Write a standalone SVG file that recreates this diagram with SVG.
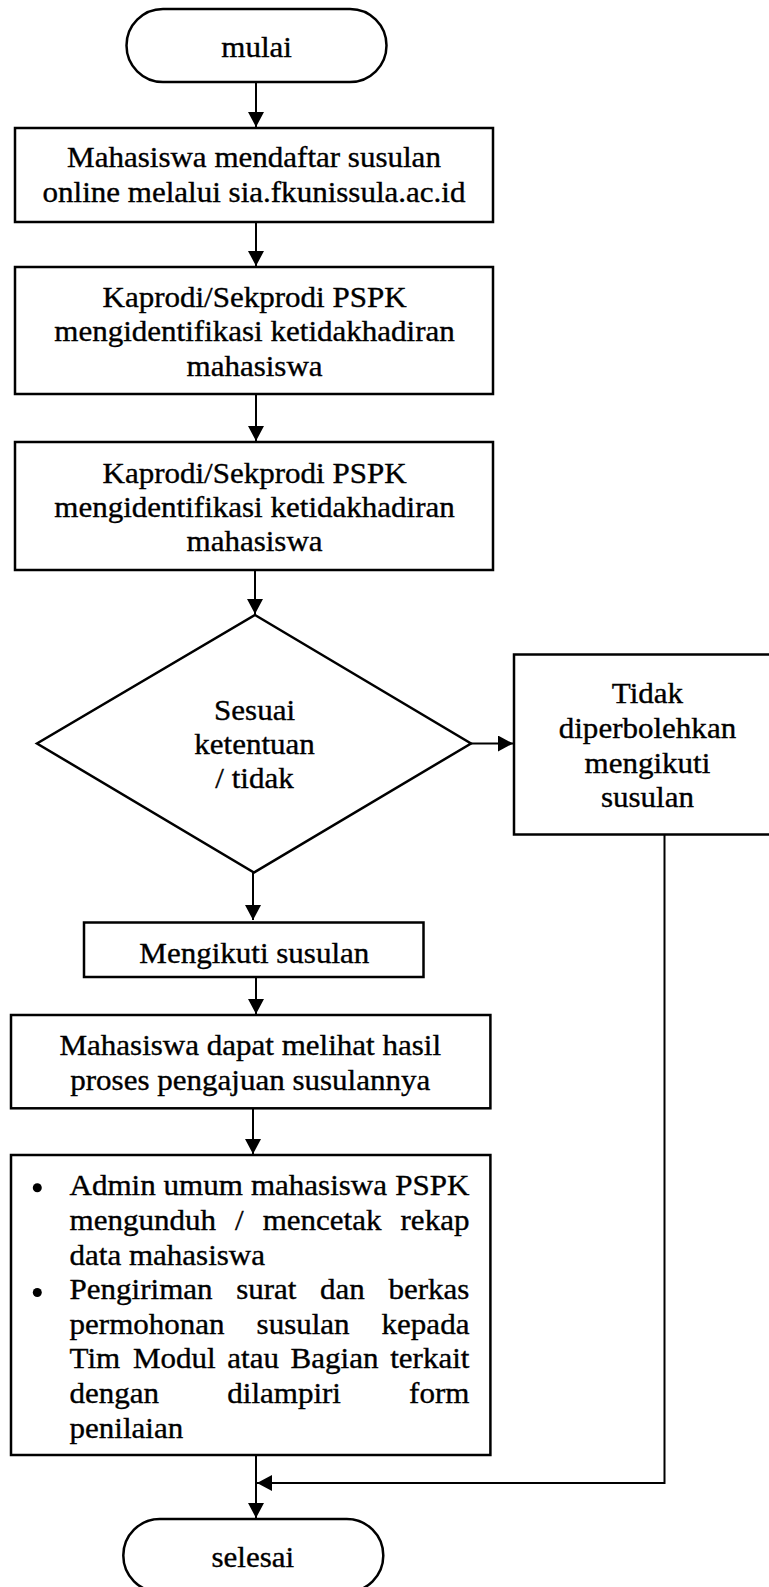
<svg xmlns="http://www.w3.org/2000/svg" width="769" height="1587" viewBox="0 0 769 1587">
<style>
.t{font-family:"Liberation Serif","Times New Roman",serif;font-size:29px;fill:#000;stroke:#000;stroke-width:0.35}
.c{text-anchor:middle}
.e{text-anchor:end}
.s{fill:#fff;stroke:#000;stroke-width:2.5}
.l{fill:none;stroke:#000;stroke-width:2}
</style>
<defs>
<marker id="ah" markerUnits="userSpaceOnUse" markerWidth="17" markerHeight="17" refX="15" refY="8" orient="auto">
<path d="M0,0 L15,8 L0,16 z" fill="#000"/>
</marker>
<clipPath id="clipM"><rect x="83" y="922" width="342" height="50"/></clipPath>
</defs>
<rect width="769" height="1587" fill="#fff"/>

<g id="connectors">
<line class="l" x1="256" y1="82" x2="256" y2="127" marker-end="url(#ah)"/>
<line class="l" x1="256" y1="222" x2="256" y2="266" marker-end="url(#ah)"/>
<line class="l" x1="256" y1="394" x2="256" y2="441" marker-end="url(#ah)"/>
<line class="l" x1="255" y1="570" x2="255" y2="614" marker-end="url(#ah)"/>
<line class="l" x1="471" y1="743.5" x2="513" y2="743.5" marker-end="url(#ah)"/>
<line class="l" x1="253" y1="872" x2="253" y2="920" marker-end="url(#ah)"/>
<line class="l" x1="256" y1="970" x2="256" y2="1014" marker-end="url(#ah)"/>
<line class="l" x1="253" y1="1108" x2="253" y2="1154" marker-end="url(#ah)"/>
<line class="l" x1="256" y1="1455" x2="256" y2="1518" marker-end="url(#ah)"/>
<polyline class="l" points="664.5,834 664.5,1483 257,1483" marker-end="url(#ah)"/>
</g>

<g id="mulai">
<rect class="s" x="126.5" y="9" width="260" height="73" rx="36.5" ry="36.5"/>
<text class="t c" transform="scale(1.07 1)" x="239.8" y="57">mulai</text>
</g>

<g id="daftar">
<rect class="s" x="15" y="128" width="478" height="94"/>
<text class="t c" transform="scale(1.07 1)" x="237.4" y="167.5">Mahasiswa mendaftar susulan</text>
<text class="t c" transform="scale(1.07 1)" x="237.4" y="202">online melalui sia.fkunissula.ac.id</text>
</g>

<g id="identifikasi1">
<rect class="s" x="15" y="267" width="478" height="127"/>
<text class="t c" transform="scale(1.07 1)" x="237.9" y="307">Kaprodi/Sekprodi PSPK</text>
<text class="t c" transform="scale(1.07 1)" x="237.9" y="341.5">mengidentifikasi ketidakhadiran</text>
<text class="t c" transform="scale(1.07 1)" x="237.9" y="376">mahasiswa</text>
</g>

<g id="identifikasi2">
<rect class="s" x="15" y="442" width="478" height="128"/>
<text class="t c" transform="scale(1.07 1)" x="237.9" y="483">Kaprodi/Sekprodi PSPK</text>
<text class="t c" transform="scale(1.07 1)" x="237.9" y="517">mengidentifikasi ketidakhadiran</text>
<text class="t c" transform="scale(1.07 1)" x="237.9" y="551.5">mahasiswa</text>
</g>

<g id="keputusan">
<polygon class="s" points="255,615 471,743.5 254,872.5 37,743.5"/>
<text class="t c" transform="scale(1.07 1)" x="237.9" y="720">Sesuai</text>
<text class="t c" transform="scale(1.07 1)" x="237.9" y="754">ketentuan</text>
<text class="t c" transform="scale(1.07 1)" x="237.9" y="788">/ tidak</text>
</g>

<g id="tidak">
<rect class="s" x="514" y="654.5" width="262" height="180"/>
<text class="t c" transform="scale(1.07 1)" x="605.1" y="703">Tidak</text>
<text class="t c" transform="scale(1.07 1)" x="605.1" y="738.5">diperbolehkan</text>
<text class="t c" transform="scale(1.07 1)" x="605.1" y="773">mengikuti</text>
<text class="t c" transform="scale(1.07 1)" x="605.1" y="806.7">susulan</text>
</g>

<g id="mengikuti">
<rect class="s" x="84" y="922.5" width="339.5" height="54.5"/>
<g clip-path="url(#clipM)">
<text class="t c" transform="scale(1.07 1)" x="237.7" y="963">Mengikuti susulan</text>
</g>
</g>

<g id="hasil">
<rect class="s" x="11" y="1015" width="479.4" height="93.3"/>
<text class="t c" transform="scale(1.07 1)" x="233.9" y="1055">Mahasiswa dapat melihat hasil</text>
<text class="t c" transform="scale(1.07 1)" x="233.9" y="1090">proses pengajuan susulannya</text>
</g>

<g id="admin">
<rect class="s" x="11" y="1155" width="479.4" height="300"/>
<circle cx="37.3" cy="1187.7" r="4.5" fill="#000"/>
<circle cx="37.3" cy="1292.5" r="4.5" fill="#000"/>
<g transform="scale(1.07 1)">
<text class="t" x="65" y="1195.5">Admin</text>
<text class="t" x="152.9" y="1195.5">umum</text>
<text class="t" x="234.5" y="1195.5">mahasiswa</text>
<text class="t e" x="438.7" y="1195.5">PSPK</text>
<text class="t" x="65" y="1230.1">mengunduh</text>
<text class="t" x="219.7" y="1230.1">/</text>
<text class="t" x="245.5" y="1230.1">mencetak</text>
<text class="t e" x="438.7" y="1230.1">rekap</text>
<text class="t" x="65" y="1264.7">data mahasiswa</text>
<text class="t" x="65" y="1299.3">Pengiriman</text>
<text class="t" x="220.7" y="1299.3">surat</text>
<text class="t" x="299" y="1299.3">dan</text>
<text class="t e" x="438.7" y="1299.3">berkas</text>
<text class="t" x="65" y="1333.9">permohonan</text>
<text class="t" x="239.8" y="1333.9">susulan</text>
<text class="t e" x="438.7" y="1333.9">kepada</text>
<text class="t" x="65" y="1368.5">Tim</text>
<text class="t" x="124.2" y="1368.5">Modul</text>
<text class="t" x="212.4" y="1368.5">atau</text>
<text class="t" x="271.6" y="1368.5">Bagian</text>
<text class="t e" x="438.7" y="1368.5">terkait</text>
<text class="t" x="65" y="1403.1">dengan</text>
<text class="t" x="212.4" y="1403.1">dilampiri</text>
<text class="t e" x="438.7" y="1403.1">form</text>
<text class="t" x="65" y="1437.7">penilaian</text>
</g>
</g>

<g id="selesai">
<rect class="s" x="123.3" y="1519" width="260" height="73" rx="36.5" ry="36.5"/>
<text class="t c" transform="scale(1.07 1)" x="236.3" y="1567.3">selesai</text>
</g>
</svg>
